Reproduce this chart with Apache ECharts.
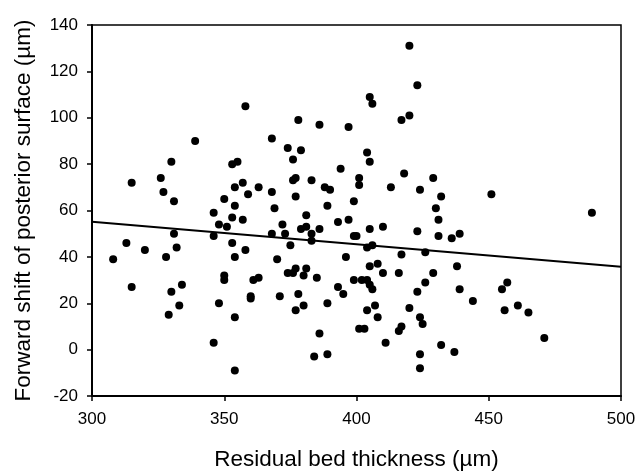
<!DOCTYPE html>
<html>
<head>
<meta charset="utf-8">
<script src="https://cdn.jsdelivr.net/npm/echarts@6/dist/echarts.min.js"></script>
<style>html,body{margin:0;padding:0;background:#fff}#c{width:636px;height:471px}</style>
</head>
<body>
<div id="c"></div>
<script>
// Residual bed thickness (µm)
const thickness = [308,313,315,315,320,326,327,328,329,330,330,331,331,332,333,334,339,346,346,346,348,348,350,350,350,351,353,353,353,354,354,354,354,354,355,357,357,358,358,359,360,360,361,363,363,368,368,368,369,370,371,372,373,374,374,375,376,376,376,377,377,377,377,378,378,379,379,380,380,381,381,381,383,383,383,384,385,386,386,386,388,389,389,389,390,393,393,394,395,396,397,397,399,399,399,400,401,401,401,402,403,404,404,404,404,405,405,405,405,405,406,406,406,407,408,408,410,410,411,413,416,416,417,417,417,418,420,420,420,423,423,423,424,424,424,424,425,426,426,429,429,430,431,431,432,432,436,437,438,439,439,444,451,455,456,457,461,465,471,489];
// Forward shift of posterior surface (µm)
const shift = [39,46,72,27,43,74,68,40,15,81,25,64,50,44,19,28,90,59,49,3,54,20,65,32,30,53,80,57,46,70,62,40,14,-9,81,56,72,105,43,67,23,22,30,31,70,91,68,50,61,39,23,54,50,87,33,45,82,73,33,74,66,35,17,99,24,86,52,32,19,58,53,35,73,50,47,-3,31,52,97,7,70,62,20,-2,69,55,27,78,24,40,96,56,64,49,30,49,74,71,9,30,9,85,44,30,17,109,81,52,36,28,106,45,26,19,37,14,53,33,3,70,33,8,99,41,10,76,131,101,18,114,51,25,69,14,-2,-8,11,42,29,74,33,61,56,49,66,2,48,-1,36,50,26,21,67,26,17,29,19,16,5,59];
// Regression line end points
const fitX = [300, 500];
const fitY = [55.2, 35.7];
const xTicks = {min: 300, max: 500, interval: 50};
const yTicks = {min: -20, max: 140, interval: 20};

const points = thickness.map((x, i) => [x, shift[i]]);
const fitLine = fitX.map((x, i) => [x, fitY[i]]);

const chart = echarts.init(document.getElementById('c'), null, {renderer: 'canvas'});
const font = '"Liberation Sans", Arial, sans-serif';
chart.setOption({
  animation: false,
  backgroundColor: '#fff',
  grid: {left: 92, right: 15, top: 25, bottom: 75, containLabel: false, outerBoundsMode: 'none', show: true, borderColor: '#000', borderWidth: 1.5, backgroundColor: 'transparent'},
  xAxis: {
    type: 'value', min: xTicks.min, max: xTicks.max, interval: xTicks.interval,
    name: 'Residual bed thickness (\u00b5m)', nameLocation: 'middle', nameGap: 52,
    nameTextStyle: {fontFamily: font, fontSize: 22.5, color: '#000'},
    axisLine: {show: true, onZero: false, lineStyle: {color: '#000', width: 2}},
    axisTick: {show: true, inside: false, length: 5, lineStyle: {color: '#000', width: 1.5}},
    axisLabel: {fontFamily: font, fontSize: 17, color: '#000', margin: 15},
    splitLine: {show: false}
  },
  yAxis: {
    type: 'value', min: yTicks.min, max: yTicks.max, interval: yTicks.interval,
    name: 'Forward shift of posterior surface (\u00b5m)', nameLocation: 'middle', nameGap: 57,
    nameTextStyle: {fontFamily: font, fontSize: 22.5, color: '#000'},
    axisLine: {show: true, onZero: false, lineStyle: {color: '#000', width: 2}},
    axisTick: {show: true, inside: false, length: 5, lineStyle: {color: '#000', width: 1.5}},
    axisLabel: {fontFamily: font, fontSize: 17, color: '#000', margin: 14},
    splitLine: {show: false}
  },
  series: [
    {type: 'scatter', data: points, symbol: 'circle', symbolSize: 8, itemStyle: {color: '#000', opacity: 1}},
    {type: 'line', data: fitLine, symbol: 'none', lineStyle: {color: '#000', width: 2}, z: 3}
  ]
});
</script>
</body>
</html>
